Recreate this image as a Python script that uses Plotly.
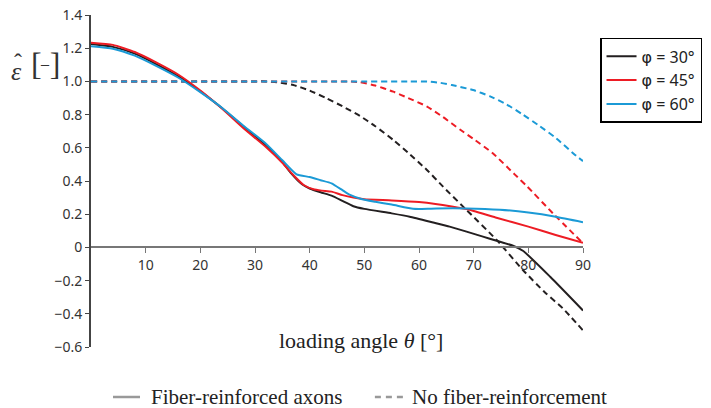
import plotly.graph_objects as go

# ---- data ----
theta_black = [0, 4, 8, 12, 16, 20, 24, 28, 32, 35, 36.5, 38.6, 40, 42, 44, 46, 48, 50, 55, 58.3, 62.6, 65.6, 68.7, 71.7, 74.2, 77.2, 79, 84, 90]
eps_black = [1.225, 1.208, 1.167, 1.103, 1.03, 0.94, 0.838, 0.725, 0.615, 0.515, 0.45, 0.38, 0.355, 0.332, 0.312, 0.28, 0.248, 0.232, 0.205, 0.185, 0.15, 0.125, 0.095, 0.065, 0.04, 0.01, -0.02, -0.177, -0.38]

theta_red = [0, 4, 8, 12, 16, 20, 24, 28, 32, 35, 37, 38.9, 40.7, 42.2, 44, 46, 48, 50, 55, 60, 63, 66, 68.7, 74, 80, 85, 90]
eps_red = [1.233, 1.22, 1.177, 1.113, 1.04, 0.945, 0.835, 0.715, 0.605, 0.51, 0.436, 0.376, 0.35, 0.342, 0.336, 0.315, 0.30, 0.29, 0.283, 0.273, 0.262, 0.247, 0.231, 0.18, 0.125, 0.075, 0.028]

theta_blue = [0, 4, 8, 12, 16, 20, 24, 28, 32, 35, 37.6, 40, 42, 44, 46, 47.4, 49.6, 52, 55, 58.9, 60, 63.2, 68.7, 74.8, 80, 85, 90]
eps_blue = [1.212, 1.197, 1.155, 1.092, 1.022, 0.935, 0.84, 0.73, 0.625, 0.525, 0.44, 0.424, 0.405, 0.386, 0.345, 0.316, 0.29, 0.275, 0.258, 0.233, 0.232, 0.235, 0.235, 0.227, 0.21, 0.185, 0.152]

theta_black_nf = [0, 30, 32, 34, 37, 40, 43.1, 46, 49.2, 52, 55.3, 58, 61.4, 64.4, 68.7, 74.2, 79, 83, 86.3, 90]
eps_black_nf = [1.0, 1.0, 1.0, 0.995, 0.978, 0.945, 0.898, 0.85, 0.792, 0.73, 0.647, 0.57, 0.468, 0.366, 0.225, 0.045, -0.136, -0.27, -0.367, -0.50]

theta_red_nf = [0, 45, 47, 49.2, 52, 55.3, 58, 61.4, 64.4, 67.5, 69.9, 73.5, 77.5, 79.7, 84.5, 90]
eps_red_nf = [1.0, 1.0, 1.0, 0.995, 0.975, 0.938, 0.9, 0.85, 0.785, 0.71, 0.655, 0.567, 0.44, 0.37, 0.205, 0.025]

theta_blue_nf = [0, 58, 60, 62, 63.8, 66, 69.9, 73, 76, 79, 82.1, 85, 88.8, 90]
eps_blue_nf = [1.0, 1.0, 1.0, 0.998, 0.992, 0.978, 0.948, 0.91, 0.862, 0.8, 0.73, 0.66, 0.55, 0.52]

phi_labels = ["30°", "45°", "60°"]
style_labels = ["Fiber-reinforced axons", "No fiber-reinforcement"]
x_ticks = [10, 20, 30, 40, 50, 60, 70, 80, 90]
y_ticks = [-0.6, -0.4, -0.2, 0, 0.2, 0.4, 0.6, 0.8, 1.0, 1.2, 1.4]
y_ticktext = ["−0.6", "−0.4", "−0.2", "0", "0.2", "0.4", "0.6", "0.8", "1.0", "1.2", "1.4"]

BLACK = "#231f20"
RED = "#ed1c24"
BLUE = "#1b9ad6"
GRAY = "#999999"
SANS = "Noto Sans"
SERIF = "Liberation Serif"

fig = go.Figure()

solid = [(theta_black, eps_black, BLACK), (theta_red, eps_red, RED), (theta_blue, eps_blue, BLUE)]
dashed = [(theta_black_nf, eps_black_nf, BLACK), (theta_red_nf, eps_red_nf, RED), (theta_blue_nf, eps_blue_nf, BLUE)]

for (x, y, c) in dashed:
    fig.add_trace(go.Scatter(x=x, y=y, mode="lines", showlegend=False,
                             line=dict(color=c, width=2, dash="6px,4px", shape="spline", smoothing=0.5)))
for i, ((x, y, c), lab) in enumerate(zip(solid, phi_labels)):
    name = "<span style='font-family:DejaVu Sans'>φ</span> = " + lab
    fig.add_trace(go.Scatter(x=x, y=y, mode="lines", name=name, legendgroup=f"g{i}",
                             line=dict(color=c, width=2, shape="spline", smoothing=0.5)))

# bottom line-style key (drawn in paper coordinates)
shapes = [
    dict(type="line", xref="paper", yref="paper", x0=0.0447, x1=0.0996, y0=-0.1506, y1=-0.1506,
         line=dict(color=GRAY, width=2.5)),
    dict(type="line", xref="paper", yref="paper", x0=0.577, x1=0.634, y0=-0.1506, y1=-0.1506,
         line=dict(color=GRAY, width=2.5, dash="6px,5px")),
]

annotations = [
    dict(text=style_labels[0], x=0.1179, y=-0.1506, xref="paper", yref="paper",
         xanchor="left", yanchor="middle", showarrow=False,
         font=dict(family=SERIF, size=21, color="#222222")),
    dict(text=style_labels[1], x=0.648, y=-0.1506, xref="paper", yref="paper",
         xanchor="left", yanchor="middle", showarrow=False,
         font=dict(family=SERIF, size=21, color="#222222")),
    dict(text="loading angle <i>θ</i> [°]", x=49.4, y=-0.558, xref="x", yref="y",
         xanchor="center", yanchor="middle",
         showarrow=False, font=dict(family=SERIF, size=22, color="#222222")),
    dict(text="<i>ε</i>", x=-0.152, y=0.830, xref="paper", yref="paper",
         xanchor="center", yanchor="middle",
         showarrow=False, font=dict(family=SERIF, size=26, color="#333333")),
    dict(text="ˆ", x=-0.148, y=0.857, xref="paper", yref="paper",
         xanchor="center", yanchor="middle",
         showarrow=False, font=dict(family=SERIF, size=24, color="#333333")),
    dict(text="[<span style='font-size:16px;color:rgba(0,0,0,0)'>–</span>]", x=-0.0925, y=0.853,
         xref="paper", yref="paper", xanchor="center", yanchor="middle",
         showarrow=False, font=dict(family=SERIF, size=32, color="#333333")),
    dict(text="–", x=-0.0925, y=0.853, xref="paper", yref="paper",
         xanchor="center", yanchor="middle",
         showarrow=False, font=dict(family=SERIF, size=16, color="#333333")),
]

fig.update_layout(
    width=711, height=408,
    margin=dict(l=91, r=128, t=15, b=61, autoexpand=False),
    plot_bgcolor="white", paper_bgcolor="white",
    font=dict(family=SANS, size=14, color="#333333"),
    xaxis=dict(range=[0, 90], tickvals=x_ticks, showgrid=False, zeroline=False,
               showline=True, linecolor="#777777", linewidth=1.5,
               ticks="outside", ticklen=5, tickwidth=1.2, tickcolor="#777777",
               anchor="free", position=0.3, automargin=False,
               tickfont=dict(family=SANS, size=14, color="#333333")),
    yaxis=dict(range=[-0.6, 1.4], tickvals=y_ticks, ticktext=y_ticktext, showgrid=False,
               zeroline=False, showline=True, linecolor="#444444", linewidth=2,
               ticks="outside", ticklen=4, tickwidth=1.2, tickcolor="#444444", automargin=False,
               tickfont=dict(family=SANS, size=14, color="#333333")),
    legend=dict(x=1.0346, y=0.931, xanchor="left", yanchor="top",
                bordercolor="#000000", borderwidth=1.5, bgcolor="white",
                font=dict(family=SANS, size=16, color="#222222"), tracegroupgap=0),
    shapes=shapes,
    annotations=annotations,
)

fig.write_html("out.html", config={"displayModeBar": False},
               post_script="document.body.style.margin='0px';")
